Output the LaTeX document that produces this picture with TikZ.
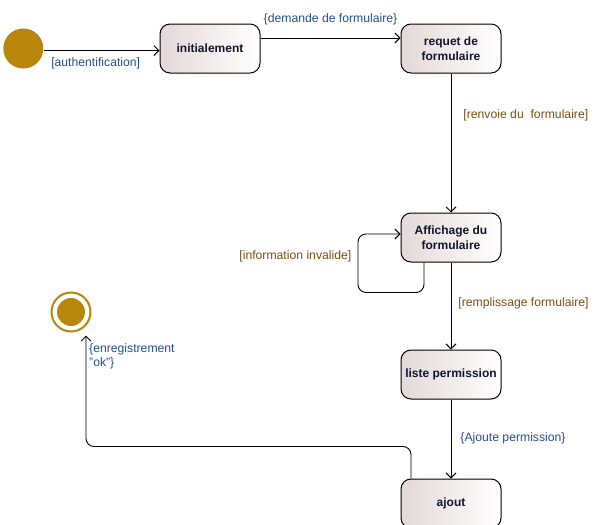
\documentclass[tikz,border=0pt]{standalone}
\usepackage{fontspec}
\setmainfont{Liberation Sans}
\usepackage{tikz}
\usetikzlibrary{arrows.meta,positioning}
\definecolor{cgold}{HTML}{B8860B}
\definecolor{cshade}{HTML}{E4D8D8}
\definecolor{cink}{HTML}{14142A}
\definecolor{cblue}{HTML}{23508F}
\definecolor{cbrown}{HTML}{7E4C14}
\tikzset{
  >={Straight Barb[length=5pt,width=10pt]},
  state/.style={rounded corners=10pt,draw=black,line width=1pt,align=center,
                minimum width=100pt,minimum height=49pt,inner sep=2pt,
                left color=cshade,right color=white,text=cink,
                font=\fontsize{12}{14.5}\selectfont\bfseries},
  startstate/.style={circle,fill=cgold,minimum size=40pt,inner sep=0pt},
  endstate/.style={circle,draw=cgold,line width=2pt,minimum size=39pt,inner sep=0pt,
                   path picture={\fill[cgold] (path picture bounding box.center) circle (14pt);}},
  lbl/.style={font=\fontsize{12.2}{14}\selectfont,text=#1,inner sep=1pt},
  lbl/.default=cblue,
  flow/.style={->,line width=0.9pt},
}

\begin{document}
\begin{tikzpicture}[x=1pt,y=1pt]
\useasboundingbox (0,0) rectangle (603,-525);

\node[state] (init) at (210,-48.5) {initialement};
\node[startstate,left=116pt of init] (start) {};
\node[state,right=140pt of init] (requet) {requet de\\formulaire};
\node[state,below=139pt of requet] (affich) {Affichage du\\formulaire};
\node[state,below=87pt of affich] (liste) {liste permission};
\node[state,below=79pt of liste] (ajout) {ajout};
\node[endstate] (fin) at (71,-312) {};
\coordinate (fin-in) at ([xshift=15pt,yshift=-3pt]fin.south);

\draw[flow] ([yshift=-2pt]start.east) -- node[lbl,pos=0.45,below=6pt] {[authentification]} ([yshift=-2pt]start.east -| init.west);
\draw[flow] ([yshift=10.5pt]init.east) -- node[lbl,above=12pt] {\{demande de formulaire\}} ([yshift=10.5pt]requet.west);
\draw[flow] (requet) -- node[lbl=cbrown,pos=0.3,right=11pt] {[renvoie du~ formulaire]} (affich);
\draw[flow,rounded corners=8pt] ([xshift=-27pt]affich.south) |- ++(-66pt,-30pt) |- ([yshift=3.5pt]affich.west);
\node[lbl=cbrown,anchor=east] (inval) at ([xshift=-48pt,yshift=-18.5pt]affich.west) {[information invalide]};
\draw[flow] (affich) -- node[lbl=cbrown,pos=0.47,right=6pt] {[remplissage formulaire]} (liste);
\draw[flow] (liste) -- node[lbl,pos=0.49,right=8pt] {\{Ajoute permission\}} (ajout);
\draw[flow,rounded corners=8pt] ([xshift=-40pt]ajout.north) -- ++(0,32pt) -| (fin-in);
\node[lbl,anchor=north west,align=left] (enreg) at ([xshift=2pt,yshift=-7pt]fin-in) {\{enregistrement\\"ok"\}};

\end{tikzpicture}
\end{document}
